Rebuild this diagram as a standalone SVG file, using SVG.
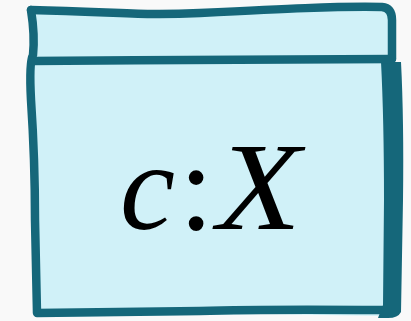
<svg xmlns="http://www.w3.org/2000/svg" width="411" height="321" viewBox="0 0 411 321">
<style>
.edge{fill:none;stroke:#15677a;stroke-width:8.5;stroke-linecap:round;stroke-linejoin:round}
.ink{fill:#15677a}
.lbl{font-family:"Liberation Serif","DejaVu Serif",serif;font-size:124px;fill:#000}
</style>
<rect width="411" height="321" fill="#f9f9f9"/>
<g id="node-c">
<path d="M31,10 C120,12 140,16 200,13 C280,9 340,6 382,7 Q393,8 393,20 L395,60 L401,110 L399,312 Q397,316 385,316 L260,314 Q200,315 40,317 Q34,316 33,305 L31,180 Q28,90 32,60 Q34,40 31,10 Z" fill="#d0f1f8"/>
<path class="edge" d="M31,10 C120,12 140,16 200,13 C280,9 340,6 382,7 Q392,8 392,20 L392,58"/>
<path class="edge" d="M31,10 Q35,35 33,55 Q29,62 31,100 Q35,160 35,220 L37,313 L200,311 Q260,309 382,310"/>
<path class="ink" d="M381,62 L401,62 Q404,120 403,200 L401,312 Q398,318 388,318 L378,318 L383,305 L384,200 Q384,120 381,62 Z"/>
<path class="edge" d="M32,61 C150,60 250,59 392,59"/>
<text class="lbl" y="229"><tspan x="120" font-style="italic">c</tspan><tspan x="179">:</tspan><tspan x="217" font-style="italic" textLength="84" lengthAdjust="spacingAndGlyphs">X</tspan></text>
</g>
</svg>
